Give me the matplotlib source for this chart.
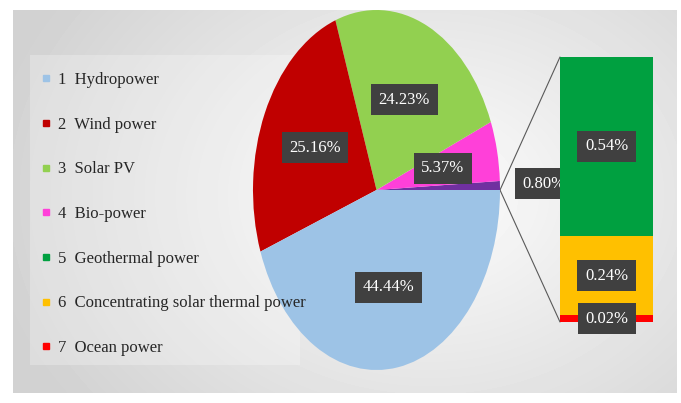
import numpy as np
import matplotlib.pyplot as plt
from matplotlib.patches import ConnectionPatch, Rectangle
from matplotlib.lines import Line2D

plt.rcParams['font.family'] = ['Liberation Serif', 'DejaVu Serif']

# legend entries
legend_labels = ["Hydropower", "Wind power", "Solar PV", "Bio-power",
                 "Geothermal power", "Concentrating solar thermal power", "Ocean power"]
legend_colors = ["#9dc3e6", "#c00000", "#92d050", "#ff40d9", "#00a040", "#ffc000", "#ff0000"]

# pie part, counter-clockwise from 3 o'clock (first slice = the split-out "other")
pie_labels = ["Other", "Bio-power", "Solar PV", "Wind power", "Hydropower"]
pie_values = [0.80, 5.37, 24.23, 25.16, 44.44]
pie_colors = ["#7030a0", "#ff40d9", "#92d050", "#c00000", "#9dc3e6"]

# bar part, bottom to top
bar_labels = ["Ocean power", "Concentrating solar thermal power", "Geothermal power"]
bar_values = [0.02, 0.24, 0.54]
bar_colors = ["#ff0000", "#ffc000", "#00a040"]

W, H = 681, 403
fig = plt.figure(figsize=(W / 100, H / 100), dpi=100)
fig.patch.set_facecolor("white")

# grey radial background
bg = fig.add_axes([0, 0, 1, 1], zorder=0)
bg.set_xlim(0, W)
bg.set_ylim(H, 0)
bg.axis("off")
yy, xx = np.mgrid[10:393, 13:677]
d = np.hypot((xx - 430) / 320, (yy - 195) / 250)
shade = 0.99 - 0.12 * np.clip(d, 0, 1.4)
bg.imshow(shade, cmap="gray", vmin=0, vmax=1, extent=(13, 677, 393, 10),
          aspect="auto", interpolation="bilinear")
# faint legend panel behind the pie
bg.add_patch(Rectangle((30, 55), 270, 310, fc="white", ec="none", alpha=0.25))

box = dict(boxstyle="square,pad=0.45", fc="#404040", ec="none")

# pie (stretched into an ellipse)
pa = fig.add_axes([253 / W, 33 / H, 247 / W, 360 / H], zorder=1)
wedges, texts, autotexts = pa.pie(pie_values, colors=pie_colors, startangle=0,
                                  counterclock=True, autopct="%.2f%%", pctdistance=0.55,
                                  textprops=dict(color="white", fontsize=12))
pa.set_aspect("auto")
pa.set_xlim(-1, 1)
pa.set_ylim(-1, 1)
for t in autotexts:
    t.set_bbox(box)
mid = np.deg2rad((wedges[0].theta1 + wedges[0].theta2) / 2)
autotexts[0].set_position((1.36 * np.cos(mid), 1.36 * np.sin(mid)))

# stacked bar of the split-out slice
ba = fig.add_axes([560 / W, 81 / H, 93 / W, 265 / H], zorder=1)
bottoms = np.cumsum([0] + bar_values[:-1])
ba.bar(0, bar_values, bottom=bottoms, width=1, color=bar_colors)
ba.set_xlim(-0.5, 0.5)
ba.set_ylim(0, sum(bar_values))
ba.axis("off")
for b, v in zip(bottoms, bar_values):
    ba.text(0, b + v / 2, f"{v:.2f}%", ha="center", va="center",
            color="white", fontsize=12, bbox=box)

# connector lines
for yb in (sum(bar_values), 0):
    con = ConnectionPatch(xyA=(1, 0), coordsA=pa.transData,
                          xyB=(-0.5, yb), coordsB=ba.transData,
                          color="#595959", lw=0.8)
    fig.add_artist(con)

# legend on top (its text runs over the pie edge)
handles = [Line2D([], [], marker="s", ls="", color=c, markersize=5) for c in legend_colors]
names = [f"{i}  {n}" for i, n in enumerate(legend_labels, 1)]
leg = fig.legend(handles, names, loc="upper left",
                 bbox_to_anchor=(16 / W, 1 - 47 / H),
                 fontsize=12, labelspacing=1.72, handlelength=0.6, handletextpad=0.4,
                 borderpad=1.0, frameon=False)
for t in leg.get_texts():
    t.set_color("#262626")

fig.savefig("out.png", dpi=100)
